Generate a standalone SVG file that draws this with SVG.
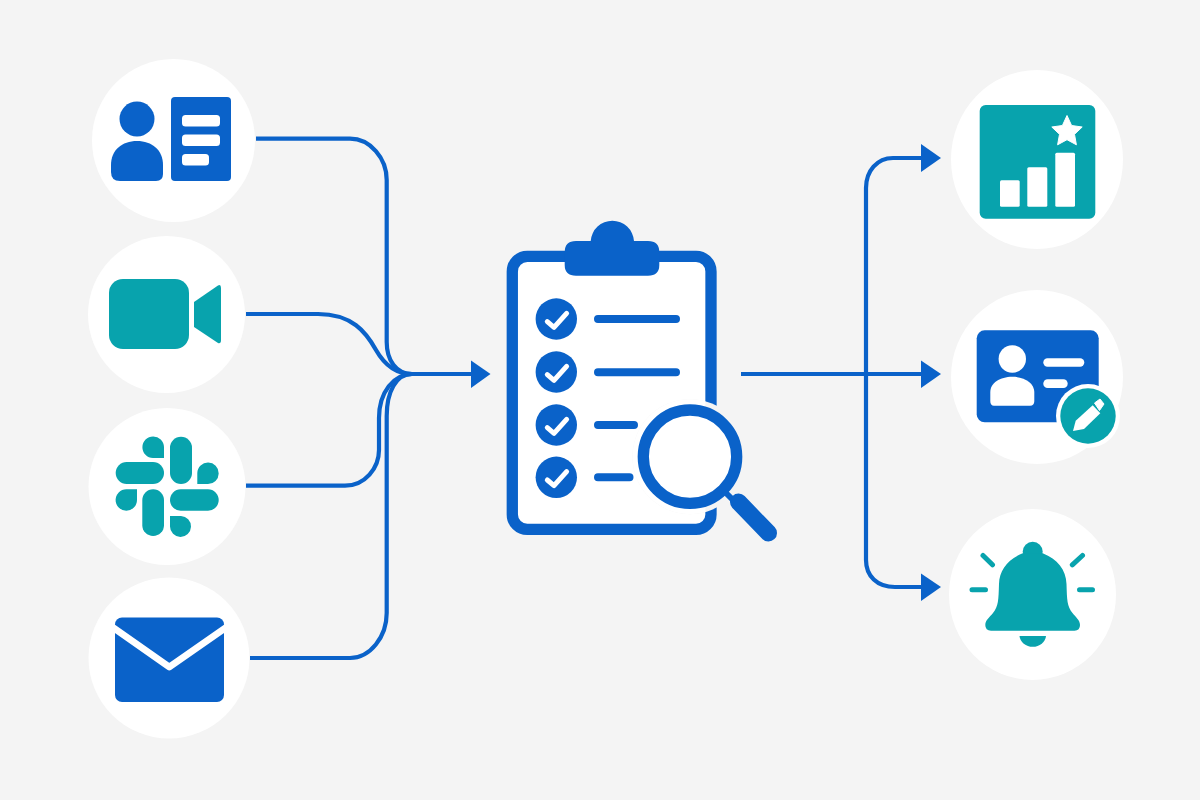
<svg xmlns="http://www.w3.org/2000/svg" width="1200" height="800" viewBox="0 0 1200 800">
<style>
.disc{fill:#fff}
.b{fill:#0a62c9}
.t{fill:#08a3ad}
.w{fill:#fff}
.conn{fill:none;stroke:#0a62c9;stroke-width:4.2}
.head{fill:#0a62c9}
.check{fill:none;stroke:#fff;stroke-width:5;stroke-linecap:round;stroke-linejoin:round}
.bar{fill:none;stroke:#0a62c9;stroke-width:8;stroke-linecap:round}
.ray{fill:none;stroke:#08a3ad;stroke-width:5;stroke-linecap:round}
</style>
<defs>
<clipPath id="halo"><circle cx="690" cy="456.7" r="57.5"/></clipPath>
</defs>
<rect width="1200" height="800" fill="#f4f4f4"/>
<g id="connectors">
<path class="conn" d="M256 138.700H350C370 138.700 386.700 158 386.700 180V342C386.700 360 396 374 412 374"/>
<path class="conn" d="M246 314H318C352 314 366 332 376 350C384 364 396 374 412 374"/>
<path class="conn" d="M246 485.700H345C365 485.700 379 468 379 450V418C379 392 394 374 412 374"/>
<path class="conn" d="M250 658H350C370 658 386.700 637 386.700 613V416C386.700 392 396 374 412 374"/>
<path class="conn" d="M410 374H473"/>
<polygon class="head" points="471,360.500 490.500,374 471,388"/>
<path class="conn" d="M741 374H923"/>
<polygon class="head" points="921,360.500 941,374 921,388"/>
<path class="conn" d="M923 158H893C877 158 866 171 866 188V560C866 576 877 587 895 587H923"/>
<polygon class="head" points="921,144 941,158 921,172"/>
<polygon class="head" points="921,573.500 941,587 921,601"/>
</g>
<g id="source-contacts">
<circle class="disc" cx="173.500" cy="140.500" r="81.500"/>
<circle class="b" cx="137" cy="119" r="17.500"/>
<path class="b" d="M111 165C111 150 122 141 137 141C152 141 163 150 163 165V174Q163 181 156 181H120Q111 181 111 172Z"/>
<rect class="b" x="171" y="97" width="60" height="84" rx="4"/>
<rect class="w" x="182" y="115" width="38" height="11.500" rx="3.500"/>
<rect class="w" x="182" y="134.500" width="38" height="11.500" rx="3.500"/>
<rect class="w" x="182" y="154" width="27" height="11.500" rx="3.500"/>
</g>
<g id="source-video">
<circle class="disc" cx="166.500" cy="314.500" r="78.500"/>
<rect class="t" x="109" y="279" width="80" height="70" rx="14"/>
<path class="t" d="M194 302L218 285.500Q221 284 221 288V340Q221 344 218 343L194 327Z"/>
</g>
<g id="source-slack">
<circle class="disc" cx="167" cy="486.500" r="78.500"/>
<path class="t" d="M164 458H153A10.800 10.800 0 1 1 164 447Z"/>
<rect class="t" x="115.700" y="462" width="48.300" height="22" rx="11"/>
<rect class="t" x="170" y="436.700" width="22" height="47.300" rx="11"/>
<path class="t" d="M197.300 484V473A10.700 10.700 0 1 1 208 484Z"/>
<path class="t" d="M137 489.300V500A10.700 10.700 0 1 1 126.300 489.300Z"/>
<rect class="t" x="142.300" y="489.300" width="21.700" height="46.700" rx="10.800"/>
<rect class="t" x="170" y="489.300" width="48.700" height="21.400" rx="10.700"/>
<path class="t" d="M170 516H181A10.500 10.500 0 1 1 170 526.500Z"/>
</g>
<g id="source-email">
<circle class="disc" cx="169" cy="658" r="80.500"/>
<rect class="b" x="115" y="617.500" width="109" height="84.500" rx="7"/>
<path d="M113 627.500L169.300 667L226 627.500" fill="none" stroke="#fff" stroke-width="7" stroke-linejoin="round"/>
</g>
<g id="checklist">
<rect x="512.300" y="256.400" width="198.700" height="273" rx="15" fill="#fff" stroke="#0a62c9" stroke-width="11.300"/>
<path class="b" d="M590.700 241A21.700 21.700 0 0 1 634 241H648Q659.300 241 659.300 252V265Q659.300 275.700 648 275.700H576Q564.700 275.700 564.700 265V252Q564.700 241 576 241Z"/>
<circle class="b" cx="556.300" cy="319" r="20.700"/>
<circle class="b" cx="556.300" cy="372" r="20.700"/>
<circle class="b" cx="556.300" cy="425" r="20.700"/>
<circle class="b" cx="556.300" cy="477.300" r="20.700"/>
<path class="check" d="M547.300 321.700L554 327.300L566.600 313.300"/>
<path class="check" d="M547.300 374.700L554 380.300L566.600 366.300"/>
<path class="check" d="M547.300 427.700L554 433.300L566.600 419.300"/>
<path class="check" d="M547.300 480L554 485.600L566.600 471.600"/>
<path class="bar" d="M598 319H676M598 372.300H676M598 425H634M598 477.300H629.500"/>
<circle cx="690" cy="456.700" r="57.500" fill="#f4f4f4"/>
<rect x="517.900" y="262" width="187.500" height="261.800" rx="10" fill="#fff" clip-path="url(#halo)"/>
<circle cx="690" cy="456.700" r="46.700" fill="#fff" stroke="#0a62c9" stroke-width="11.300"/>
<path d="M724 491L740 507" fill="none" stroke="#0a62c9" stroke-width="6"/>
<path d="M738.500 502L768.500 533" fill="none" stroke="#0a62c9" stroke-width="17" stroke-linecap="round"/>
</g>
<g id="output-report">
<ellipse class="disc" cx="1037" cy="159.500" rx="86" ry="89.500"/>
<rect class="t" x="979.700" y="105" width="115.600" height="113.700" rx="6"/>
<rect class="w" x="1000" y="180.300" width="19.700" height="26.400" rx="1.500"/>
<rect class="w" x="1027.300" y="167.300" width="20" height="39.400" rx="1.500"/>
<rect class="w" x="1055.300" y="152.700" width="19.700" height="54" rx="1.500"/>
<polygon class="w" points="1067,115.500 1071.600,125.500 1082.200,127 1074.500,134.300 1076.400,144.800 1067,139.700 1057.600,144.800 1059.500,134.300 1051.800,127 1062.400,125.500" stroke="#fff" stroke-width="1" stroke-linejoin="round"/>
</g>
<g id="output-profile">
<ellipse class="disc" cx="1037" cy="377" rx="86" ry="87"/>
<rect class="b" x="976.700" y="330.300" width="122" height="92" rx="8"/>
<circle class="w" cx="1012.300" cy="359" r="13.700"/>
<path class="w" d="M990.300 398V392C990.300 383 1000 376.700 1012.300 376.700C1024.600 376.700 1034.300 383 1034.300 392V401Q1034.300 405.700 1030 405.700H994Q990.300 405.700 990.300 401Z"/>
<rect class="w" x="1043.300" y="358.300" width="41" height="8.400" rx="4.200"/>
<rect class="w" x="1043.300" y="379.300" width="24.400" height="8.700" rx="4.300"/>
<circle class="w" cx="1088" cy="416" r="32"/>
<circle class="t" cx="1088" cy="416" r="27.700"/>
<polygon class="w" points="1073,431 1075.700,420.700 1092.700,405.300 1100.300,413.300 1084,429"/>
<polygon class="w" points="1094.500,403 1100,399 1104,404 1099.500,410.500" stroke="#fff" stroke-width="1" stroke-linejoin="round"/>
</g>
<g id="output-alert">
<ellipse class="disc" cx="1032.500" cy="594.500" rx="83.500" ry="85.500"/>
<circle class="t" cx="1032.700" cy="551.700" r="10"/>
<path class="t" d="M1022.700 553.300C1008 559 999.300 570 999 584C998.500 600 998.500 606 993 613C990 617 985.300 620 985.300 625Q985.300 630.700 991 630.700H1074.500Q1080 630.700 1080 625C1080 620 1075.500 617 1072.500 613C1067 606 1067 600 1066.500 584C1066 570 1057.500 559 1042.700 553.300Z"/>
<path class="t" d="M1019.500 636H1046A13.300 11.800 0 0 1 1019.500 636Z"/>
<path class="ray" d="M983 555.500L992.500 564.800M1082.500 555.500L1072.300 564.800M972 589.700H985.500M1079.500 589.700H1092.500"/>
</g>
</svg>
